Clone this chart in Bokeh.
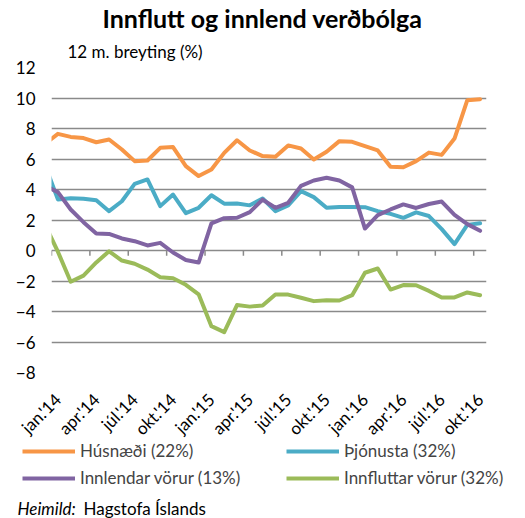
import math
from bokeh.plotting import figure
from bokeh.layouts import column
from bokeh.models import Range1d, FixedTicker, Legend, LegendItem, Label, Title
from bokeh.embed import file_html
from bokeh.resources import INLINE

# month index: -1 = des.'13, 0 = jan.'14 ... 33 = okt.'16
months = list(range(-1, 34))

tick_pos = [0, 3, 6, 9, 12, 15, 18, 21, 24, 27, 30, 33]
tick_labels = ["jan.'14", "apr.'14", "júl.'14", "okt.'14", "jan.'15", "apr.'15",
               "júl.'15", "okt.'15", "jan.'16", "apr.'16", "júl.'16", "okt.'16"]

husnaedi = [7.0, 7.65, 7.45, 7.37, 7.10, 7.28, 6.62, 5.86, 5.90, 6.73, 6.78,
            5.53, 4.88, 5.31, 6.40, 7.23, 6.56, 6.19, 6.14, 6.89, 6.69,
            5.97, 6.47, 7.17, 7.13, 6.84, 6.56, 5.49, 5.46, 5.86, 6.42,
            6.27, 7.34, 9.86, 9.92]
thjonusta = [5.6, 3.35, 3.43, 3.40, 3.29, 2.58, 3.23, 4.37, 4.66, 2.91, 3.67,
             2.45, 2.80, 3.62, 3.07, 3.08, 2.96, 3.41, 2.58, 2.95, 3.89,
             3.50, 2.80, 2.86, 2.86, 2.84, 2.58, 2.40, 2.14, 2.50, 2.26,
             1.40, 0.42, 1.68, 1.79]
innlendar = [4.25, 3.83, 2.69, 1.86, 1.12, 1.09, 0.79, 0.61, 0.33, 0.50, -0.13,
             -0.62, -0.79, 1.78, 2.12, 2.15, 2.52, 3.34, 2.80, 3.13, 4.24,
             4.59, 4.77, 4.59, 4.14, 1.44, 2.32, 2.69, 3.02, 2.79, 3.05,
             3.21, 2.34, 1.73, 1.29]
innfluttar = [1.68, -0.08, -2.05, -1.65, -0.78, -0.05, -0.66, -0.87, -1.25, -1.75, -1.82,
              -2.25, -2.87, -4.96, -5.35, -3.58, -3.68, -3.61, -2.89, -2.89, -3.10,
              -3.32, -3.26, -3.28, -2.93, -1.46, -1.18, -2.56, -2.27, -2.28, -2.65,
              -3.08, -3.08, -2.75, -2.93]

series_names = ["Húsnæði (22%)", "Þjónusta (32%)", "Innlendar vörur (13%)", "Innfluttar vörur (32%)"]
series_colors = ["#F79646", "#4BACC6", "#8064A2", "#9BBB59"]
y_ticks = list(range(-8, 13, 2))

FONT = "Lato"
GRID = "#8a8a8a"
FS = "17px"

# main chart: frame from y=67 to y=372
p = figure(width=525, height=454, output_backend="svg", toolbar_location=None,
           x_range=Range1d(-0.5, 33.5), y_range=Range1d(-8, 12),
           min_border_left=51, min_border_right=39, min_border_top=67, min_border_bottom=82)
p.frame_align = False
p.outline_line_color = None
p.background_fill_color = "white"
p.border_fill_color = "white"

p.xgrid.visible = False
p.ygrid.ticker = FixedTicker(ticks=y_ticks)
p.ygrid.grid_line_color = GRID
p.ygrid.grid_line_width = 1.5

p.yaxis.ticker = FixedTicker(ticks=y_ticks)
p.yaxis.axis_line_color = None
p.yaxis.major_tick_line_color = None
p.yaxis.minor_tick_line_color = None
p.yaxis.major_label_standoff = 10
p.yaxis.major_label_text_font = FONT
p.yaxis.major_label_text_font_size = FS
p.yaxis.major_label_text_color = "black"

p.xaxis.ticker = FixedTicker(ticks=tick_pos)
p.xaxis.major_label_overrides = {t: l for t, l in zip(tick_pos, tick_labels)}
p.xaxis.axis_line_color = None
p.xaxis.major_tick_line_color = None
p.xaxis.minor_tick_line_color = None
p.xaxis.major_label_orientation = math.pi / 4
p.xaxis.major_label_standoff = 18
p.xaxis.major_label_text_font = FONT
p.xaxis.major_label_text_font_size = FS
p.xaxis.major_label_text_color = "black"

# tick marks on the zero line, between categories
tick_marks = [t - 0.5 for t in tick_pos]
p.segment(x0=tick_marks, y0=[0] * len(tick_marks), x1=tick_marks, y1=[-0.35] * len(tick_marks),
          line_color=GRID, line_width=1.5)

for vals, col in zip([husnaedi, thjonusta, innlendar, innfluttar], series_colors):
    p.line(months, vals, line_color=col, line_width=4, line_join="round", line_cap="round")

p.add_layout(Title(text="12 m. breyting (%)", align="left", offset=16, standoff=12,
                   text_font=FONT, text_font_size=FS, text_font_style="normal",
                   text_color="black"), "above")
p.add_layout(Title(text="Innflutt og innlend verðbólga", align="left", offset=51, standoff=0,
                   text_font=FONT, text_font_size="25px", text_font_style="bold",
                   text_color="black"), "above")

# legend + source strip, pulled up under the rotated labels
p2 = figure(width=525, height=78, output_backend="svg", toolbar_location=None,
            x_range=Range1d(0, 525), y_range=Range1d(0, 78),
            min_border_left=0, min_border_right=0, min_border_top=0, min_border_bottom=0)
p2.frame_align = False
p2.axis.visible = False
p2.grid.visible = False
p2.outline_line_color = None
p2.background_fill_color = None
p2.border_fill_color = None

try:
    p2.margin = (-14, 0, 0, 0)
except Exception:
    p2.height = 64

nan = float("nan")
swatches = [p2.line([nan], [nan], line_color=c, line_width=4) for c in series_colors]
legend = Legend(items=[LegendItem(label=n, renderers=[r]) for n, r in zip(series_names, swatches)],
                orientation="horizontal", ncols=2, location=(22, p2.height - 48),
                glyph_width=53, glyph_height=20, label_height=20, label_width=200,
                label_standoff=5, spacing=6, padding=0, margin=0,
                label_text_font=FONT, label_text_font_size=FS,
                background_fill_alpha=0, border_line_color=None)
p2.add_layout(legend, "center")

p2.add_layout(Label(x=17, y=10, x_units="screen", y_units="screen",
                    text="Heimild:", text_align="left", text_font_style="italic",
                    text_baseline="alphabetic", text_font=FONT,
                    text_font_size=FS, text_color="black"))
p2.add_layout(Label(x=83, y=10, x_units="screen", y_units="screen",
                    text="Hagstofa Íslands", text_align="left",
                    text_baseline="alphabetic", text_font=FONT,
                    text_font_size=FS, text_color="black"))

open("out.html", "w").write(file_html(column(p, p2), INLINE))
